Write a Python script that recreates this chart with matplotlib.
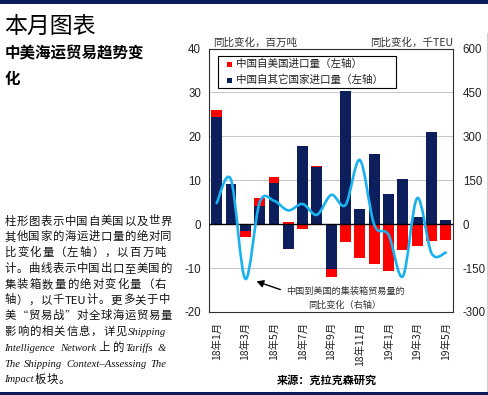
import matplotlib
matplotlib.use("Agg")
import matplotlib.pyplot as plt
from matplotlib.path import Path
from matplotlib.patches import PathPatch, Rectangle, FancyArrowPatch
from matplotlib.lines import Line2D
import numpy as np

plt.rcParams['font.family'] = ['Noto Sans CJK SC', 'DejaVu Sans']

# ---------------- data ----------------
months = ["18年1月", "18年2月", "18年3月", "18年4月", "18年5月", "18年6月", "18年7月",
          "18年8月", "18年9月", "18年10月", "18年11月", "18年12月", "19年1月", "19年2月",
          "19年3月", "19年4月", "19年5月"]
other_imports = [24.5, 9.2, -1.45, 4.2, 9.3, -5.6, 17.9, 12.95, -10.15, 30.3, 3.5, 16.0,
                 6.8, 10.2, 1.7, 20.9, 0.9]
us_imports = [1.6, -0.2, -1.45, 1.7, 1.4, 0.5, -1.05, 0.35, -1.95, -3.95, -7.7, -9.1,
              -10.75, -5.8, -4.9, -3.8, -3.6]
teu_change = [72, 152, -187, 74, 80, 47, 69, 32, 100, 66, 219, -2, -36, -178, 89, -99, -97]

left_ticks = [-20, -10, 0, 10, 20, 30, 40]
right_ticks = [-300, -150, 0, 150, 300, 450, 600]
shown_labels = ["18年1月", "18年3月", "18年5月", "18年7月", "18年9月", "18年11月",
                "19年1月", "19年3月", "19年5月"]

legend_labels = ["中国自美国进口量（左轴）", "中国自其它国家进口量（左轴）"]

NAVY = '#0c1f5c'
RED = '#ff0000'
CYAN = '#1ab2ee'

W, H = 489, 395
fig = plt.figure(figsize=(W / 100, H / 100), dpi=100)


def fx(x):
    return x / W


def fy(y):
    return 1 - y / H


# top/bottom bars and right border
fig.add_artist(Rectangle((0, fy(3.5)), 1, 3.5 / H, transform=fig.transFigure,
                         color='#0a1d5a', lw=0))
fig.add_artist(Rectangle((0, 0), 1, 3.5 / H, transform=fig.transFigure,
                         color='#0a1d5a', lw=0))
fig.add_artist(Line2D([fx(487), fx(487)], [fy(33), fy(391)], transform=fig.transFigure,
                      color='#d0d0d0', lw=0.8))

# ---------------- axes ----------------
ax = fig.add_axes([fx(209.5), fy(312), (453 - 209.5) / W, (312 - 48.5) / H])
x = np.arange(len(months))
ax.set_xlim(-0.5, len(months) - 0.5)
ax.set_ylim(-20, 40)

bw = 0.76
ax.bar(x, other_imports, width=bw, color=NAVY, zorder=2)
red_bottom = [o if (o >= 0) == (u >= 0) else 0 for o, u in zip(other_imports, us_imports)]
ax.bar(x, us_imports, width=bw, bottom=red_bottom, color=RED, zorder=2)

for v in [-10, 10, 20, 30]:
    ax.axhline(v, color='#c8c8c8', lw=0.8, zorder=1)
ax.axhline(0, color='black', lw=1.0, zorder=3)

ax.set_yticks(left_ticks)
ax.set_yticklabels([str(v) for v in left_ticks], fontfamily='Liberation Sans',
                   fontsize=8.3, color='#222222')
ax.tick_params(axis='y', length=0, pad=6)
ax.set_xticks([months.index(m) for m in shown_labels])
ax.set_xticklabels(shown_labels, rotation=90, fontsize=7.5, color='#222222')
ax.tick_params(axis='x', length=0, pad=7)
for s in ax.spines.values():
    s.set_color('#303030')
    s.set_linewidth(0.8)

ax2 = ax.twinx()
ax2.set_ylim(-300, 600)
ax2.set_yticks(right_ticks)
ax2.set_yticklabels([str(v) for v in right_ticks], fontfamily='Liberation Sans',
                    fontsize=8.3, color='#222222')
ax2.tick_params(axis='y', length=0, pad=7)
for s in ax2.spines.values():
    s.set_visible(False)

# smooth line (Excel-style smoothing via cubic Bezier through the data points)
pts = np.column_stack([x, teu_change]).astype(float)
n = len(pts)
verts = [tuple(pts[0])]
codes = [Path.MOVETO]
for i in range(n - 1):
    p0 = pts[i - 1] if i > 0 else pts[i]
    p1 = pts[i]
    p2 = pts[i + 1]
    p3 = pts[i + 2] if i + 2 < n else pts[i + 1]
    c1 = p1 + (p2 - p0) / 6
    c2 = p2 - (p3 - p1) / 6
    verts += [tuple(c1), tuple(c2), tuple(p2)]
    codes += [Path.CURVE4] * 3
ax2.add_patch(PathPatch(Path(verts, codes), facecolor='none', edgecolor=CYAN, lw=1.9,
                        zorder=4, capstyle='round', joinstyle='round'))

# legend (drawn as box + markers + labels)
fig.add_artist(Rectangle((fx(218), fy(88)), (396 - 218) / W, (88 - 56) / H,
                         transform=fig.transFigure, facecolor='white',
                         edgecolor='black', lw=0.8, zorder=5))
for (yy, col, lab) in [(64, RED, legend_labels[0]), (80, NAVY, legend_labels[1])]:
    fig.add_artist(Rectangle((fx(227), fy(yy + 2.5)), 5 / W, 5 / H,
                             transform=fig.transFigure, color=col, lw=0, zorder=6))
    fig.text(fx(236.5), fy(yy), lab, fontsize=7.6, color='#222222', ha='left',
             va='center', zorder=6)

# axis unit labels
fig.text(fx(213), fy(43), "同比变化，百万吨", fontsize=7.6, color='#333333',
         ha='left', va='center')
fig.text(fx(453), fy(43), "同比变化，千TEU", fontsize=7.6, color='#333333',
         ha='right', va='center')

# annotation
fig.text(fx(345), fy(291.5), "中国到美国的集装箱贸易量的", fontsize=6.6, color='#333333',
         ha='center', va='center')
fig.text(fx(345), fy(305), "同比变化（右轴）", fontsize=6.6, color='#333333',
         ha='center', va='center')
fig.add_artist(FancyArrowPatch(
    (fx(283), fy(290.5)), (fx(254), fy(280.5)), transform=fig.transFigure,
    arrowstyle='-|>,head_length=4,head_width=2.2', color='black', lw=1.0))

# source
fig.text(fx(327), fy(380), "来源：克拉克森研究", fontsize=8, fontweight='bold',
         color='black', ha='center', va='center')

# title & subtitle
fig.text(fx(4), fy(26), "本月图表", fontsize=16.5, color='black', ha='left', va='center')
fig.text(fx(5), fy(53), "中美海运贸易趋势变", fontsize=11.2, fontweight='bold',
         color='black', ha='left', va='center')
fig.text(fx(5), fy(79), "化", fontsize=11.2, fontweight='bold',
         color='black', ha='left', va='center')

# ---------------- body text (justified) ----------------
CJK_SIZE = 8.2
cjk_fp = dict(fontsize=CJK_SIZE, family=['Noto Sans CJK SC', 'DejaVu Sans'])
it_fp = dict(fontsize=7.7, family=['Liberation Serif'], style='italic')

body_lines = [
    [("柱形图表示中国自美国以及世界", 'c')],
    [("其他国家的海运进口量的绝对同", 'c')],
    [("比变化量（左轴），以百万吨", 'c')],
    [("计。曲线表示中国出口至美国的", 'c')],
    [("集装箱数量的绝对变化量（右", 'c')],
    [("轴），以千TEU计。更多关于中", 'c')],
    [("美“贸易战”对全球海运贸易量", 'c')],
    [("影响的相关信息，详见", 'c'), ("Shipping", 'i')],
    [("Intelligence Network", 'i'), ("上的", 'c'), ("Tariffs &", 'i')],
    [("The Shipping Context–Assessing The", 'i')],
    [("Impact", 'i'), ("板块。", 'c')],
]

renderer = fig.canvas.get_renderer()
x_left, x_right = 4.5, 166.0
y0, dy = 224.5, 15.8
cjk_w = CJK_SIZE * 100 / 72


def tokens_of(segs):
    toks = []
    for s, kind in segs:
        if kind == 'c':
            buf = ''
            for ch in s:
                if ord(ch) < 128 and ch != ' ':
                    buf += ch
                else:
                    if buf:
                        toks.append((buf, 'c'))
                        buf = ''
                    toks.append((ch, 'c'))
            if buf:
                toks.append((buf, 'c'))
        else:
            for w in s.split(' '):
                toks.append((w, 'i'))
    return toks


for li, segs in enumerate(body_lines):
    toks = tokens_of(segs)
    base_y = y0 + li * dy
    arts, widths, minsp = [], [], []
    prev_kind = None
    for s, kind in toks:
        props = cjk_fp if kind == 'c' else it_fp
        t = fig.text(0, fy(base_y), s, ha='left', va='baseline', color='#111111', **props)
        arts.append(t)
        if kind == 'c' and len(s) == 1 and ord(s) > 127:
            widths.append(cjk_w)
        else:
            widths.append(t.get_window_extent(renderer).width)
        # minimal natural spacing before this token
        if prev_kind is None:
            minsp.append(0.0)
        elif kind == 'i' and prev_kind == 'i':
            minsp.append(2.8)
        else:
            minsp.append(0.6)
        prev_kind = kind
    last = (li == len(body_lines) - 1)
    total = sum(widths) + sum(minsp)
    gaps = len(toks) - 1
    if last or gaps == 0:
        extra = 0.0
    else:
        extra = max(0.0, (x_right - x_left - total) / gaps)
    xpos = x_left
    for k, (t, w, (s, kind)) in enumerate(zip(arts, widths, toks)):
        if k > 0:
            xpos += minsp[k] + extra
        if kind == 'c' and len(s) == 1 and ord(s) > 127:
            t.set_x(fx(xpos + w / 2))
            t.set_ha('center')
        else:
            t.set_x(fx(xpos))
        xpos += w

fig.savefig("out.png", dpi=100)
